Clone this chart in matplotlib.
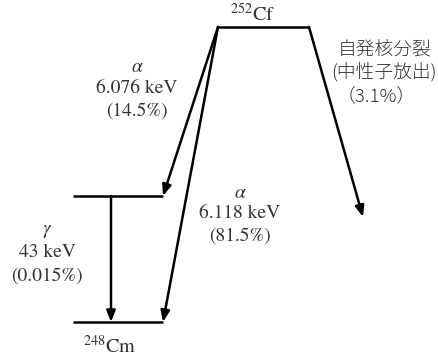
import matplotlib
matplotlib.use("Agg")
import matplotlib.pyplot as plt

plt.rcParams["mathtext.fontset"] = "stix"

# Decay data for 252Cf
parent_mass, parent_symbol = 252, "Cf"
daughter_mass, daughter_symbol = 248, "Cm"
alpha_energies = ["6.076", "6.118"]          # keV, as labelled
alpha_branches = ["14.5", "81.5"]            # %
gamma_energy = "43"                          # keV
gamma_branch = "0.015"                       # %
fission_lines = ["自発核分裂", "(中性子放出)"]
fission_branch = "3.1"                       # %

# Level layout in figure pixel space (y grows downward)
W, H = 439, 358
parent_level = (218, 309, 27)     # x0, x1, y
excited_level = (73, 163, 196)
ground_level = (73, 163, 322)
gamma_x = 111
fission_tip = (363, 217)

fig = plt.figure(figsize=(W / 100, H / 100), dpi=100)
ax = fig.add_axes([0, 0, 1, 1])
ax.set_xlim(0, W)
ax.set_ylim(H, 0)
ax.axis("off")

LW = 1.8
INK = "black"
TXT = "#333333"
latin = ["STIXGeneral", "Noto Sans CJK JP"]
cjk = ["Noto Sans CJK JP", "STIXGeneral"]
FS = 14

for x0, x1, y in (parent_level, excited_level, ground_level):
    ax.plot([x0, x1], [y, y], color=INK, lw=LW, solid_capstyle="butt")

arrow = dict(arrowstyle="-|>,head_length=0.55,head_width=0.22", color=INK,
             lw=LW, shrinkA=0, shrinkB=0, mutation_scale=12)

# alpha branches from the parent level to the 248Cm levels
start = (parent_level[0], parent_level[2])
ax.annotate("", xy=(excited_level[1], excited_level[2]), xytext=start, arrowprops=arrow)
ax.annotate("", xy=(ground_level[1], ground_level[2]), xytext=start, arrowprops=arrow)

# gamma transition
ax.annotate("", xy=(gamma_x, ground_level[2]), xytext=(gamma_x, excited_level[2]),
            arrowprops=arrow)

# spontaneous fission
ax.annotate("", xy=fission_tip, xytext=(parent_level[1], parent_level[2]),
            arrowprops=arrow)

# level labels
ax.text(253, 14, rf"$^{{{parent_mass}}}$" + parent_symbol, ha="center", va="center",
        fontsize=14.5, family=latin, color=TXT)
ax.text(110, 346, rf"$^{{{daughter_mass}}}$" + daughter_symbol, ha="center", va="center",
        fontsize=14.5, family=latin, color=TXT)

# alpha labels
alpha_pos = [(137, 67), (240, 192)]
for (x, y), e, b in zip(alpha_pos, alpha_energies, alpha_branches):
    ax.text(x, y, r"$\alpha$", ha="center", va="center", fontsize=FS, color=TXT)
    ax.text(x, y + 21, f"{e} keV", ha="center", va="center", fontsize=FS,
            family=latin, color=TXT)
    ax.text(x, y + 44, f"({b}%)", ha="center", va="center", fontsize=FS,
            family=latin, color=TXT)

# gamma labels
ax.text(47, 231, r"$\gamma$", ha="center", va="center", fontsize=FS, color=TXT)
ax.text(47, 252, f"{gamma_energy} keV", ha="center", va="center", fontsize=FS,
        family=latin, color=TXT)
ax.text(47, 276, f"({gamma_branch}%)", ha="center", va="center", fontsize=FS,
        family=latin, color=TXT)

# fission labels
ax.text(385, 50, fission_lines[0], ha="center", va="center", fontsize=13.5,
        family=cjk, weight="light", color=TXT)
ax.text(384, 72, fission_lines[1], ha="center", va="center", fontsize=13.5,
        family=cjk, weight="light", color=TXT)
ax.text(376, 96, f"（{fission_branch}%）", ha="center", va="center", fontsize=13.5,
        family=cjk, weight="light", color=TXT)

fig.savefig("out.png", dpi=100)
